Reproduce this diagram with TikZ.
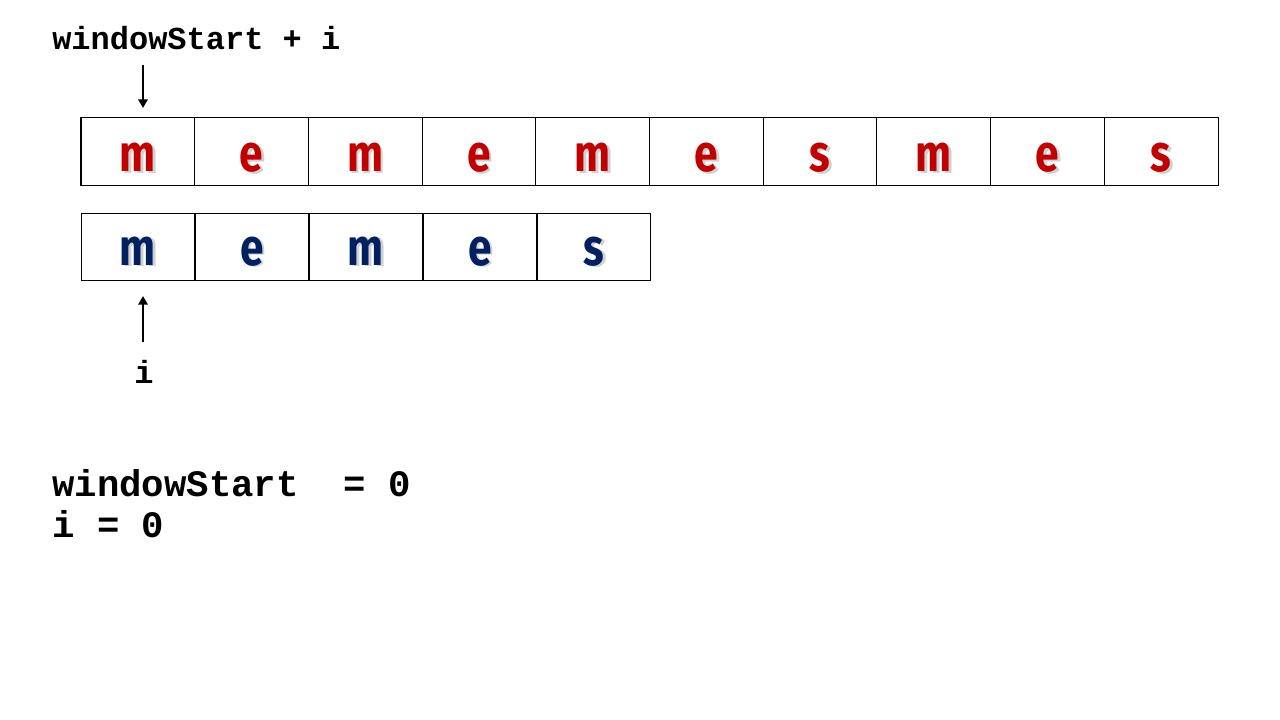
\documentclass[tikz,border=0pt]{standalone}
\usepackage{fontspec}
\setmonofont{Liberation Mono}
\newfontfamily\letterfont{Fira Sans}
\usetikzlibrary{arrows.meta,calc}
\definecolor{topred}{HTML}{C00000}
\definecolor{botblue}{HTML}{002060}
\tikzset{
  cell/.style={draw=black, line width=0.8pt, minimum width=85.3pt, minimum height=50.6pt, inner sep=0pt, outer sep=0pt},
  code/.style={font=\ttfamily\bfseries\fontsize{24pt}{28pt}\selectfont, inner sep=0pt, anchor=base west},
  bigcode/.style={code, font=\ttfamily\bfseries\fontsize{28pt}{32pt}\selectfont},
  letter/.style={font=\letterfont\bfseries\fontsize{39pt}{42pt}\selectfont, inner sep=0pt, anchor=base, xscale=0.82},
  shade/.style={letter, text=black!30, opacity=0.6},
  ptr/.style={line width=1.8pt, -{Triangle[length=6.5pt,width=7pt]}},
}
\begin{document}
\begin{tikzpicture}[x=0.75pt,y=-0.75pt]
\useasboundingbox (0,0) rectangle (1280,720);
% top row
\foreach \k/\ch in {0/m,1/e,2/m,3/e,4/m,5/e,6/s,7/m,8/e,9/s}{
  \node[cell] (t\k) at ({81+113.7*\k+56.85},151.5) {};
  \node[shade] (ts\k) at ($(t\k.center)+(2.5,22.5)$) {\ch};
  \node[letter, text=topred] (tl\k) at ($(t\k.center)+(0,20.5)$) {\ch};
}
% bottom row
\foreach \k/\ch in {0/m,1/e,2/m,3/e,4/s}{
  \node[cell] (b\k) at ({81+114*\k+57},247) {};
  \node[shade] (bs\k) at ($(b\k.center)+(2.5,20)$) {\ch};
  \node[letter, text=botblue] (bl\k) at ($(b\k.center)+(0,18)$) {\ch};
}
% labels
\node[code] (wsi) at (52,50) {windowStart + i};
\node[code, anchor=base] (ilab) at (144,383) {i};
\node[bigcode] (ws0) at (52,496) {windowStart~~=~0};
\node[bigcode] (i0) at (52,537) {i = 0};
% pointers
\coordinate (a1) at (143,65);
\coordinate (a2) at (143,108);
\coordinate (c1) at (143,342);
\coordinate (c2) at (143,296);
\draw[ptr] (a1) -- (a2);
\draw[ptr] (c1) -- (c2);
\end{tikzpicture}
\end{document}
